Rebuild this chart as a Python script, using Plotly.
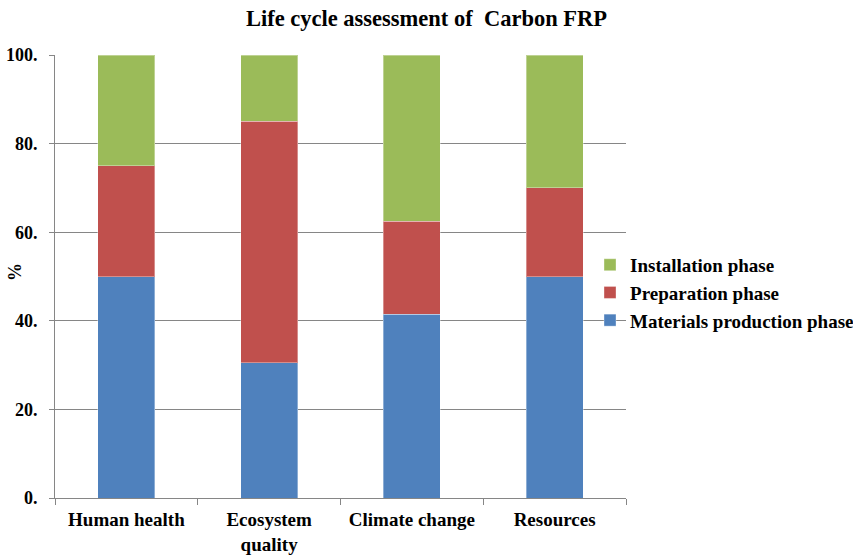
import plotly.graph_objects as go

categories = ["Human health", "Ecosystem<br>quality", "Climate change", "Resources"]
materials = [50.0, 30.5, 41.5, 50.0]
preparation = [25.0, 54.5, 21.0, 20.0]
installation = [25.0, 15.0, 37.5, 30.0]
y_tickvals = [0, 20, 40, 60, 80, 100]
y_ticktext = ["0.", "20.", "40.", "60.", "80.", "100."]

FONT = "'Liberation Serif', 'Times New Roman', Times, serif"
edge = dict(color="rgba(255,255,255,0.35)", width=1)

fig = go.Figure()
fig.add_trace(go.Bar(x=categories, y=materials, name="Materials production phase",
                     marker=dict(color="#4F81BD", line=edge)))
fig.add_trace(go.Bar(x=categories, y=preparation, name="Preparation phase",
                     marker=dict(color="#C0504D", line=edge)))
fig.add_trace(go.Bar(x=categories, y=installation, name="Installation phase",
                     marker=dict(color="#9BBB59", line=edge)))

fig.update_layout(
    width=853, height=555,
    barmode="stack", bargap=0.6,
    paper_bgcolor="white", plot_bgcolor="white",
    margin=dict(l=55, r=227, t=55, b=57, autoexpand=False),
    font=dict(family=FONT, size=19, color="black", weight="bold"),
    title=dict(text="Life cycle assessment of  Carbon FRP", x=0.5, xanchor="center",
               y=0.967, yanchor="middle",
               font=dict(family=FONT, size=22.5, color="black", weight="bold")),
    showlegend=True,
    legend=dict(x=0.937, xanchor="left", y=0.463, yanchor="middle",
                traceorder="reversed", bgcolor="rgba(0,0,0,0)",
                font=dict(family=FONT, size=19, color="black", weight="bold"),
                itemwidth=30),
    xaxis=dict(showline=True, linecolor="#868686", linewidth=1, automargin=False,
               ticks="outside", tickson="boundaries", ticklen=6, tickcolor="#868686",
               showgrid=False, ticklabelstandoff=4,
               tickfont=dict(family=FONT, size=19, color="black", weight="bold")),
    yaxis=dict(range=[0, 100], tickvals=y_tickvals, ticktext=y_ticktext, automargin=False,
               showline=True, linecolor="#868686", linewidth=1,
               ticks="outside", ticklen=5, tickcolor="#868686",
               showgrid=True, gridcolor="#868686", gridwidth=1,
               zeroline=False, ticklabelstandoff=8,
               tickfont=dict(family=FONT, size=18, color="black", weight="bold")),
    annotations=[dict(text="%", xref="paper", yref="paper", x=(15 - 55) / 571, y=0.51,
                      xanchor="center", yanchor="middle", textangle=-90, showarrow=False,
                      font=dict(family=FONT, size=18, color="black", weight="bold"))],
)

fig.write_html("out.html", config={"displayModeBar": False},
               post_script="document.body.style.margin='0';document.body.style.overflow='hidden';")
